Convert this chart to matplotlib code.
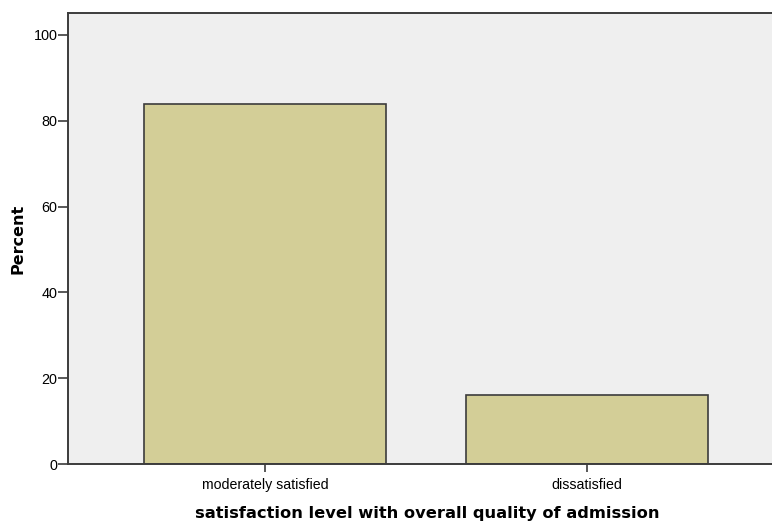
import matplotlib
matplotlib.use("Agg")
import matplotlib.pyplot as plt

# data
categories = ["moderately satisfied", "dissatisfied"]
percent = [84.0, 16.0]
yticks = [0, 20, 40, 60, 80, 100]

plt.rcParams['font.family'] = ['Liberation Sans', 'DejaVu Sans']

fig = plt.figure(figsize=(7.72, 5.24), dpi=100)
ax = fig.add_axes([0.0881, 0.1145, 0.912, 0.8607])
ax.set_facecolor('#EFEFEF')

ax.bar(range(len(categories)), percent, width=0.75, color='#D3CE97',
       edgecolor='#3C3C3C', linewidth=1.2, zorder=2)

ax.set_xlim(-0.612, 1.575)
ax.set_ylim(0, 105.1)
ax.set_yticks(yticks)
ax.set_xticks(range(len(categories)))
ax.set_xticklabels(categories, fontsize=10.2)
ax.tick_params(axis='y', labelsize=10.4, length=7, width=1.2, color='#3C3C3C', pad=0.5)
ax.tick_params(axis='x', length=6, width=1.2, color='#3C3C3C', pad=4)

for side in ['left', 'bottom', 'top']:
    ax.spines[side].set_color('#3C3C3C')
    ax.spines[side].set_linewidth(1.4)
ax.spines['right'].set_visible(False)

ax.set_ylabel("Percent", fontsize=11.5, fontweight='bold', family='DejaVu Sans', labelpad=6)
ax.set_xlabel("satisfaction level with overall quality of admission",
              fontsize=11.7, fontweight='bold', family='DejaVu Sans', labelpad=12)
# the original frame runs on past the right edge, so the title sits a bit right of centre
ax.xaxis.set_label_coords(0.51, -0.094)

fig.savefig("out.png", dpi=100)
